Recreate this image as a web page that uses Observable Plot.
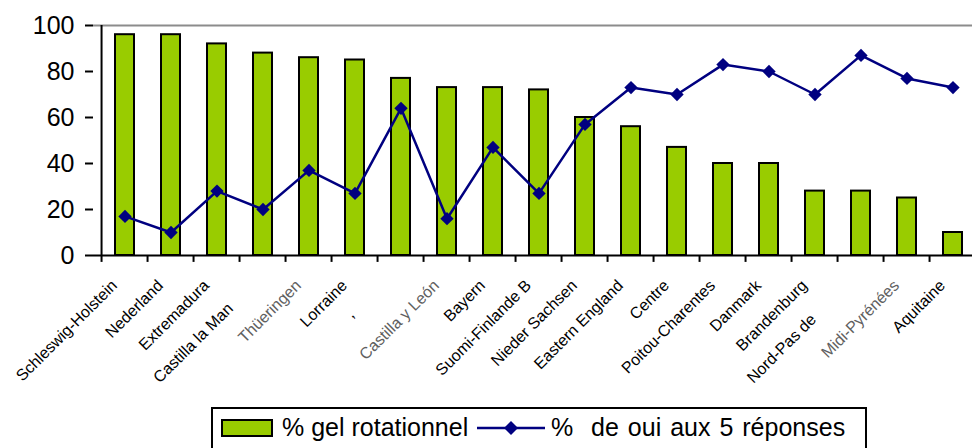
<!DOCTYPE html>
<html>
<head>
<meta charset="utf-8">
<script src="https://cdn.jsdelivr.net/npm/d3@7"></script>
<script src="https://cdn.jsdelivr.net/npm/@observablehq/plot@0.6"></script>
<style>
html,body{margin:0;padding:0;background:#fff;overflow:hidden;}
body{font-family:"Liberation Sans",Arial,sans-serif;}
#wrap{position:relative;width:972px;height:448px;overflow:hidden;}
#chart svg{overflow:hidden;}
#legend{position:absolute;left:211px;top:407px;width:656px;height:70px;border:2px solid #000;box-sizing:border-box;background:#fff;}
.sw{position:absolute;left:221px;top:419px;width:52px;height:18px;border:2px solid #000;box-sizing:border-box;background:#99CC00;}
.lt{position:absolute;top:415px;font-size:25px;line-height:25px;white-space:pre;color:#000;}
.ls{position:absolute;left:477px;top:418px;}
</style>
</head>
<body>
<div id="wrap">
  <div id="chart"></div>
  <div id="legend"></div>
  <div class="sw"></div>
  <span class="lt" style="left:282px">% gel rotationnel</span>
  <svg class="ls" width="70" height="20"><line x1="0" y1="10" x2="68" y2="10" stroke="#000080" stroke-width="2.5"/><path d="M34,3 L41,10 L34,17 L27,10 Z" fill="#000080"/></svg>
  <span class="lt" style="left:551px;word-spacing:2px">%  de oui aux 5 réponses</span>
</div>
<script>
const regions = ["Schleswig-Holstein","Nederland","Extremadura","Castilla la Man","Thüeringen","Lorraine",",","Castilla y León","Bayern","Suomi-Finlande B","Nieder Sachsen","Eastern England","Centre","Poitou-Charentes","Danmark","Brandenburg","Nord-Pas de","Midi-Pyrénées","Aquitaine"];
const gelRotationnel = [96,96,92,88,86,85,77,73,73,72,60,56,47,40,40,28,28,25,10];
const ouiAux5Reponses = [17,10,28,20,37,27,64,16,47,27,57,73,70,83,80,70,87,77,73];
const yTicks = [0,20,40,60,80,100];

const greyLabels = new Set(["Thüeringen","Castilla y León","Midi-Pyrénées"]);
const labelShift = {"Castilla la Man":[-22,23], ",":[-39,29], "Nord-Pas de":[-37,34]};

const data = regions.map((r,i)=>({region:r, gel:gelRotationnel[i], oui:ouiAux5Reponses[i]}));

const x0 = 93.3, step = 46.9;
const x1 = x0 + step*regions.length;

const labelMarks = data.map(d => {
  const s = labelShift[d.region] || [0,0];
  return Plot.text([d], {
    x: "region", y: 0, text: "region",
    rotate: -45, textAnchor: "end", lineAnchor: "top",
    fontSize: 16, fill: greyLabels.has(d.region) ? "#606060" : "#000",
    dx: -15 + s[0], dy: 23 + s[1]
  });
});

const chart = Plot.plot({
  width: 972,
  height: 400,
  marginLeft: 93,
  marginRight: 0,
  marginTop: 25,
  marginBottom: 145,
  style: {fontFamily: '"Liberation Sans", Arial, sans-serif', color: "#000", background: "#fff"},
  x: {type: "band", domain: regions, range: [x0, x1], paddingInner: 0.59, paddingOuter: 0.295, align: 0.5, axis: null},
  y: {domain: [0,100], range: [255,25], axis: null},
  marks: [
    Plot.ruleY([100], {stroke: "#8c8c8c", strokeWidth: 2}),
    Plot.barY(data, {x: "region", y: "gel", fill: "#99CC00", stroke: "#000", strokeWidth: 2}),
    Plot.ruleY([0], {stroke: "#000", strokeWidth: 2}),
    Plot.ruleX([regions[0]], {x: d => d, y1: 0, y2: 100, dx: -step/2, stroke: "#000", strokeWidth: 2}),
    Plot.ruleX(regions, {x: d => d, y1: 0, y2: -3, dx: -step/2, stroke: "#000", strokeWidth: 2}),
    Plot.axisY({ticks: yTicks, tickSize: 8, tickPadding: 11, fontSize: 25, stroke: "#000", strokeWidth: 2, fill: "#000", tickFormat: d => String(d)}),
    Plot.line(data, {x: "region", y: "oui", stroke: "#000080", strokeWidth: 2.5}),
    Plot.dot(data, {x: "region", y: "oui", symbol: "diamond2", r: 6, fill: "#000080", stroke: "none"}),
    ...labelMarks
  ]
});
document.getElementById("chart").appendChild(chart);
</script>
</body>
</html>
